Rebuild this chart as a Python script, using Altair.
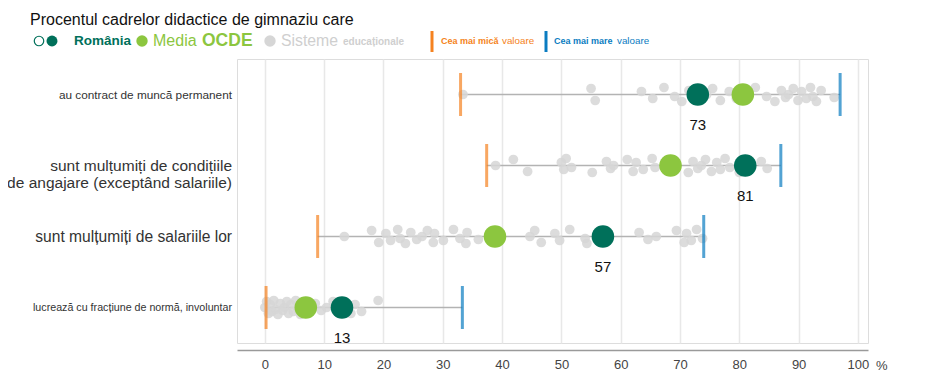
import altair as alt
import pandas as pd

# ---------------- data ----------------
categories = [
    "au contract de muncă permanent",
    "sunt mulțumiți de condițiile de angajare (exceptând salariile)",
    "sunt mulțumiți de salariile lor",
    "lucrează cu fracțiune de normă, involuntar",
]
row_labels = [
    "au contract de muncă permanent",
    "sunt mulțumiți de condițiile\nde angajare (exceptând salariile)",
    "sunt mulțumiți de salariile lor",
    "lucrează cu fracțiune de normă, involuntar",
]
romania = [73, 81, 57, 13]
oecd = [80.6, 68.4, 38.8, 6.9]
min_vals = [33.0, 37.4, 8.9, 0.2]
max_vals = [97.0, 87.0, 74.0, 33.3]

systems_1 = [33.4, 55.0, 55.7, 63.5, 65.4, 67.3, 69.1, 70.3, 71.5, 72.5, 74.5,
             75.5, 76.8, 78.3, 79.5, 82.7, 84.6, 86.0, 87.1, 87.8, 88.3, 89.1,
             89.9, 90.5, 91.3, 92.0, 92.4, 93.0, 93.8, 96.0]
systems_2 = [38.9, 41.9, 44.3, 50.0, 50.4, 50.8, 51.7, 55.2, 57.6, 58.3, 58.8,
             61.1, 62.1, 62.6, 63.8, 65.3, 65.8, 71.4, 72.2, 73.0, 73.6, 74.3,
             75.3, 76.2, 76.8, 77.6, 78.4, 80.0, 83.7, 84.7]
systems_3 = [13.4, 18.0, 19.2, 20.4, 21.2, 22.4, 22.8, 23.7, 24.6, 25.6, 26.5,
             27.4, 28.4, 28.6, 30.1, 31.8, 32.9, 33.9, 34.1, 36.0, 44.7, 45.5,
             46.6, 48.9, 49.7, 51.4, 54.0, 54.3, 63.1, 64.6, 66.0, 69.4, 70.7,
             71.1, 71.9, 72.8, 73.8]
systems_4 = [0.0, 0.3, 0.6, 0.9, 1.2, 1.5, 1.8, 2.2, 2.6, 3.0, 3.3, 3.7, 4.0,
             4.4, 4.8, 5.2, 5.6, 6.0, 8.5, 9.5, 10.4, 11.5, 14.5, 15.2, 16.3,
             19.1]
systems = [systems_1, systems_2, systems_3, systems_4]

# ---------------- styles ----------------
C_RO = "#00705a"
C_OECD = "#8cc63f"
C_GRAY = "#d6d6d6"
C_MIN = "#f58220"
C_MAX = "#0a7cc1"
FONT = "Liberation Sans"
JITTER = [0, -6, 6, -3, 4, -7, 2, 7, -4, 3]

W, H = 631, 284
HALF_BAND = H / len(categories) / 2

summary = pd.DataFrame({
    "cat": categories, "romania": romania, "oecd": oecd,
    "minv": min_vals, "maxv": max_vals,
})
rows = []
for cat, vals in zip(categories, systems):
    for i, v in enumerate(vals):
        rows.append({"cat": cat, "v": v, "j": HALF_BAND + JITTER[i % len(JITTER)]})
pts = pd.DataFrame(rows)

y_enc = alt.Y("cat:N", sort=categories,
              scale=alt.Scale(domain=categories, paddingInner=0, paddingOuter=0),
              axis=None)
x_scale = alt.Scale(domain=[-4.7, 101.7], nice=False, zero=False)

base = alt.Chart(summary)

grid = base.mark_rule(opacity=0).encode(
    x=alt.X("minv:Q", scale=x_scale,
            axis=alt.Axis(values=list(range(0, 101, 10)), title=None, grid=True,
                          gridColor="#e8e8e8", gridWidth=1.5, ticks=False,
                          domainColor="#9a9a9a", domainWidth=1.5, offset=7,
                          labelFontSize=13, labelColor="#444", labelPadding=8,
                          labelFont=FONT)),
    y=alt.Y("cat:N", sort=categories,
            scale=alt.Scale(domain=categories, paddingInner=0, paddingOuter=0),
            axis=alt.Axis(title=None, labels=False, ticks=False, domain=True,
                          domainColor="#e8e8e8", grid=True, tickBand="extent",
                          gridColor="#e8e8e8", gridWidth=1.5)),
)

line = base.mark_rule(color="#b3b3b3", strokeWidth=1.5).encode(
    x=alt.X("minv:Q", scale=x_scale), x2="maxv:Q", y=y_enc)

gray = alt.Chart(pts).mark_circle(size=95, color=C_GRAY, opacity=0.85).encode(
    x=alt.X("v:Q", scale=x_scale), y=y_enc,
    yOffset=alt.YOffset("j:Q", scale=None))

tmin = base.mark_tick(color=C_MIN, thickness=3, size=43).encode(
    x=alt.X("minv:Q", scale=x_scale), y=y_enc)
tmax = base.mark_tick(color=C_MAX, thickness=3, size=43).encode(
    x=alt.X("maxv:Q", scale=x_scale), y=y_enc)

c_oecd = base.mark_circle(size=510, color=C_OECD, opacity=1).encode(
    x=alt.X("oecd:Q", scale=x_scale), y=y_enc)
c_ro = base.mark_circle(size=510, color=C_RO, opacity=1).encode(
    x=alt.X("romania:Q", scale=x_scale), y=y_enc)
t_ro = base.mark_text(dy=30, fontSize=15, font=FONT, color="#111").encode(
    x=alt.X("romania:Q", scale=x_scale), y=y_enc, text="romania:Q")

label_styles = [
    dict(fontSize=11.8),
    dict(fontSize=15.5, lineHeight=17),
    dict(fontSize=15.6),
    dict(fontSize=10.7),
]
label_layers = []
for cat, lab, st in zip(categories, row_labels, label_styles):
    df = pd.DataFrame({"cat": [cat], "label": [lab]})
    label_layers.append(
        alt.Chart(df).mark_text(align="right", baseline="middle", color="#333",
                                font=FONT, lineBreak="\n", **st).encode(
            x=alt.value(-5), y=y_enc, text="label:N"))


def txt(s, x, y, size, color, bold=False, align="left"):
    return alt.Chart(alt.Data(values=[{}])).mark_text(
        text=s, fontSize=size, color=color, font=FONT, align=align,
        baseline="middle", fontWeight="bold" if bold else "normal",
    ).encode(x=alt.value(x), y=alt.value(y))


def dot(x, y, size, color, filled=True):
    return alt.Chart(alt.Data(values=[{}])).mark_point(
        shape="circle", size=size, filled=filled, color=color, opacity=1,
        strokeWidth=1.2).encode(x=alt.value(x), y=alt.value(y))


def bar(x, y1, y2, color):
    return alt.Chart(alt.Data(values=[{}])).mark_rule(
        color=color, strokeWidth=3).encode(
        x=alt.value(x), y=alt.value(y1), y2=alt.value(y2))


OX, OY = 237, 59   # page position of the plot origin
LY = 41 - OY
deco = [
    txt("Procentul cadrelor didactice de gimnaziu care", 30 - OX, 20 - OY, 16, "#111"),
    dot(39 - OX, LY, 90, C_RO, filled=False),
    dot(52 - OX, LY, 120, C_RO),
    txt("România", 74 - OX, LY, 13.5, C_RO, bold=True),
    dot(142 - OX, LY, 130, C_OECD),
    txt("Media", 153 - OX, LY, 16, C_OECD),
    txt("OCDE", 202 - OX, LY, 17.5, C_OECD, bold=True),
    dot(270 - OX, LY, 130, C_GRAY),
    txt("Sisteme", 281 - OX, LY, 15.8, "#cfcfcf"),
    txt("educaționale", 343 - OX, LY + 1, 10, "#cfcfcf", bold=True),
    bar(432 - OX, 31 - OY, 52 - OY, C_MIN),
    txt("Cea mai mică", 441 - OX, LY, 9, C_MIN, bold=True),
    txt("valoare", 502 - OX, LY, 9.8, C_MIN),
    bar(546 - OX, 31 - OY, 52 - OY, C_MAX),
    txt("Cea mai mare", 554 - OX, LY, 9, C_MAX, bold=True),
    txt("valoare", 617 - OX, LY, 9.8, C_MAX),
    txt("%", 876 - OX, 366 - OY, 13, "#444"),
]

chart = alt.layer(
    grid, line, gray, tmin, tmax, c_oecd, c_ro, t_ro, *label_layers, *deco
).properties(
    width=W, height=H,
    autosize=alt.AutoSizeParams(type="none"),
    padding={"left": OX - 8, "top": OY - 8, "right": 935 - 16 - OX - W, "bottom": 391 - 16 - OY - H},
).configure_view(stroke=None).configure(background="white")

chart.save("out.html", embed_options={"renderer": "svg", "actions": False})
